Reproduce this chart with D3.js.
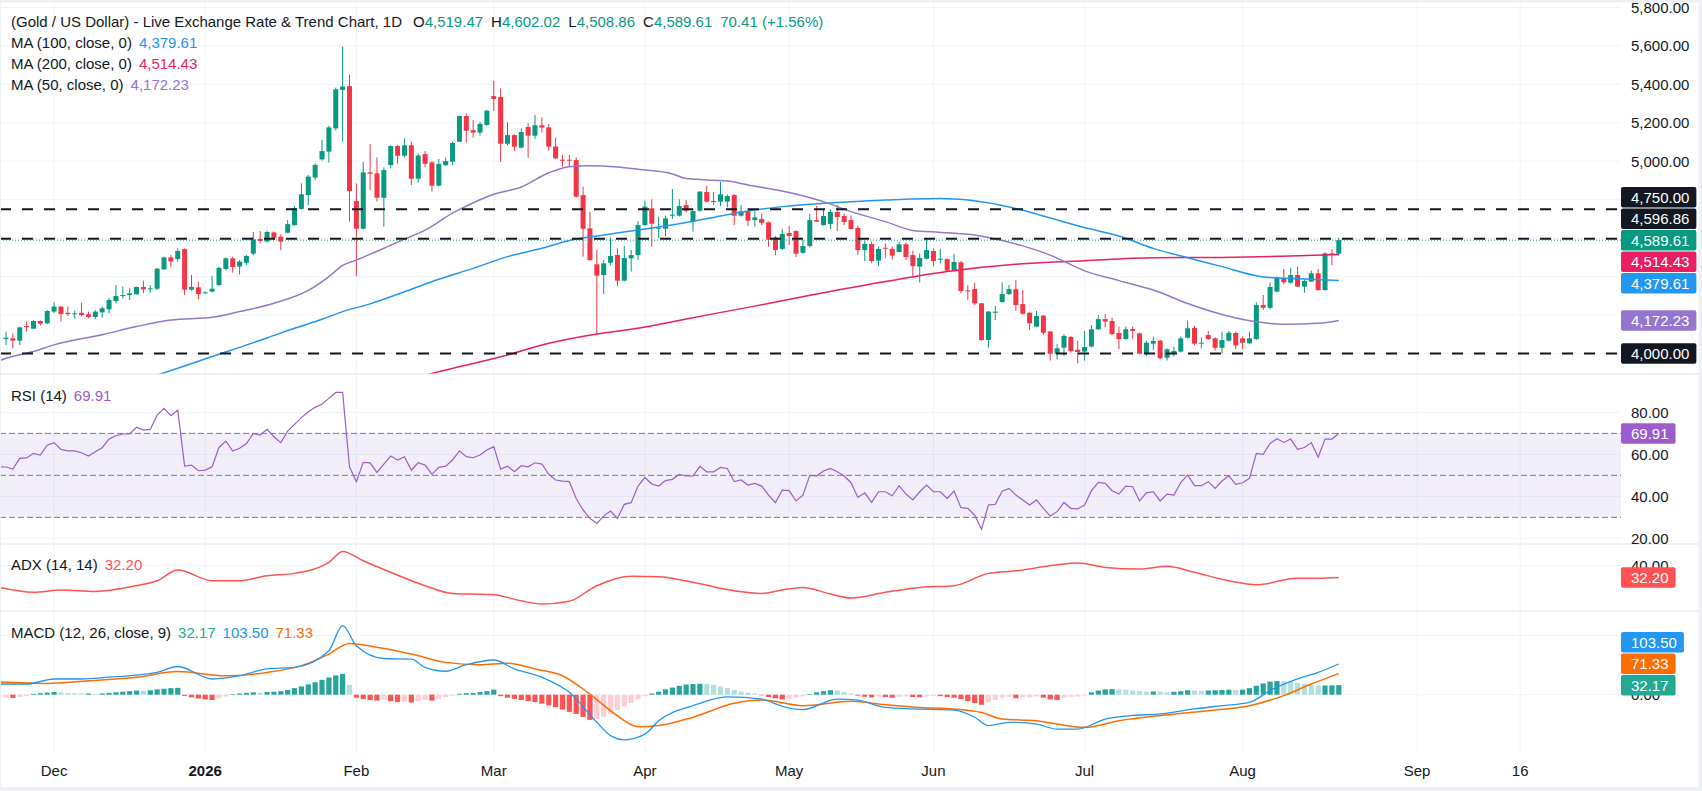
<!DOCTYPE html>
<html><head><meta charset="utf-8">
<script src="https://cdn.jsdelivr.net/npm/d3@7"></script>
<style>
html,body{margin:0;padding:0;background:#fff;}
svg{display:block;font-family:"Liberation Sans",Arial,sans-serif;}
</style></head><body>
<svg id="c" width="1702" height="791"></svg>
<script>
// ---------------- DATA ----------------
const opens = [4075,4079,4067,4143,4129,4169,4157,4218,4244,4212,4205,4212,4204,4190,4214,4230,4273,4301,4304,4308,4346,4335,4337,4438,4500,4491,4543,4332,4344,4315,4322,4356,4440,4495,4452,4472,4519,4596,4582,4630,4608,4628,4668,4752,4824,4915,5010,5050,5171,5371,
5391,4793,4649,4942,4937,4810,4980,5079,5029,5083,4909,5037,4994,4873,4980,4998,5102,5235,5162,5149,5189,5339,5334,5091,5136,5071,5178,5133,5187,5176,5077,5008,5008,5006,4824,4651,4464,4408,4472,4512,4379,4495,4512,4668,4755,4649,4649,4719,4717,4772,
4686,4743,4840,4793,4790,4790,4824,4717,4741,4694,4700,4682,4604,4544,4627,4637,4524,4559,4694,4668,4674,4736,4715,4694,4653,4538,4570,4483,4550,4544,4528,4568,4512,4452,4493,4533,4490,4491,4434,4474,4328,4335,4261,4070,4212,4268,4309,4334,4257,4212,
4140,4197,4114,3999,4030,4086,4020,4010,4036,4126,4179,4169,4107,4075,4127,4105,3999,4051,4067,3978,4004,4010,4082,4133,4053,4096,4079,4030,4067,4107,4079,4053,4075,4252,4238,4322,4391,4368,4408,4348,4374,4417,4330,4521,4519.47];
const highs = [4114,4105,4140,4166,4174,4172,4226,4266,4246,4244,4223,4264,4218,4226,4244,4290,4356,4348,4339,4348,4379,4355,4445,4504,4512,4547,4547,4408,4374,4322,4403,4452,4500,4504,4486,4512,4632,4637,4639,4634,4620,4694,4767,4885,4929,4989,5110,5185,5383,5596,
5449,4885,4996,5089,5020,4968,5083,5084,5119,5102,5041,5053,5000,5012,5020,5102,5238,5249,5214,5206,5267,5419,5379,5202,5141,5171,5197,5241,5228,5194,5124,5032,5032,5020,4868,4736,4538,4486,4604,4547,4559,4538,4689,4795,4802,4712,4717,4856,4802,4798,
4751,4845,4871,4840,4894,4828,4830,4772,4755,4741,4729,4686,4611,4648,4663,4641,4590,4726,4767,4750,4750,4772,4729,4718,4666,4587,4582,4556,4573,4556,4582,4578,4535,4521,4599,4547,4543,4495,4518,4481,4356,4368,4262,4221,4247,4370,4356,4382,4330,4218,
4221,4200,4117,4049,4101,4091,4067,4117,4148,4200,4205,4186,4140,4140,4140,4108,4067,4088,4070,4027,4036,4088,4171,4143,4084,4117,4084,4114,4117,4114,4088,4114,4266,4304,4370,4400,4440,4446,4452,4386,4431,4440,4526,4543,4602.02];
const lows = [4044,4027,4044,4114,4129,4145,4153,4212,4166,4195,4183,4195,4183,4178,4188,4209,4261,4287,4278,4308,4313,4316,4330,4435,4452,4478,4304,4327,4282,4313,4318,4350,4431,4420,4412,4460,4512,4573,4579,4590,4538,4625,4665,4748,4772,4902,5003,4993,5159,5102,
4686,4403,4645,4850,4790,4660,4963,4986,5019,4876,4889,4968,4842,4868,4975,4980,5100,5097,5123,5133,5185,5263,4998,5084,5053,5067,5018,5116,5149,5055,5012,4972,4975,4810,4504,4483,4101,4309,4460,4351,4375,4426,4486,4663,4556,4599,4611,4700,4712,4733,
4634,4738,4785,4772,4767,4760,4668,4712,4663,4660,4668,4556,4512,4538,4564,4502,4519,4552,4684,4665,4647,4637,4668,4645,4512,4481,4469,4455,4495,4490,4526,4486,4403,4369,4490,4452,4469,4427,4426,4313,4278,4252,4066,4030,4174,4264,4305,4221,4203,4122,
4136,4096,3963,3970,3987,4004,3949,3963,4032,4122,4136,4096,4023,4072,4075,3996,3987,4018,3970,3963,3984,4006,4078,4044,4027,4070,4015,4001,4062,4023,4023,4049,4070,4226,4231,4318,4360,4364,4346,4316,4372,4327,4327,4459,4508.86];
const closes = [4082,4067,4136,4140,4169,4155,4221,4244,4205,4205,4209,4200,4190,4218,4235,4278,4299,4304,4313,4346,4334,4339,4441,4500,4479,4533,4332,4346,4309,4318,4337,4445,4495,4450,4478,4507,4594,4585,4632,4602,4582,4673,4755,4828,4920,4981,5053,5176,5374,5389,
4845,4649,4942,4935,4810,4954,5079,5029,5083,4909,5030,4987,4873,4986,5001,5095,5235,5159,5149,5194,5263,5324,5091,5136,5076,5152,5133,5187,5175,5076,5015,5005,5005,4816,4649,4486,4405,4469,4507,4379,4497,4512,4668,4764,4675,4654,4703,4722,4767,4743,
4741,4842,4790,4790,4828,4819,4717,4739,4691,4708,4680,4592,4538,4622,4611,4519,4559,4694,4686,4715,4736,4710,4684,4648,4538,4570,4481,4544,4545,4509,4568,4502,4455,4497,4538,4481,4493,4431,4476,4325,4325,4261,4070,4218,4218,4309,4335,4252,4207,4157,
4195,4108,3999,4027,4091,4013,4008,4034,4126,4179,4166,4101,4075,4126,4117,3999,4056,4065,3975,4022,4013,4079,4131,4051,4056,4075,4030,4070,4108,4042,4056,4079,4252,4238,4346,4394,4370,4408,4348,4377,4417,4330,4521,4519.2,4589.61];

// moving averages: [bar, value]
const ma50 = [[-1,3962],[0,3975],[4,4010],[7,4045],[14,4098],[19,4140],[24,4174],[30,4188],[34,4218],[39,4261],[44,4328],[47,4400],[49,4458],[51,4486],[54,4532],[58,4595],[61,4642],[65,4730],[69,4800],[71,4828],[75,4866],[79,4940],[82,4972],[85,4977],[89,4970],[92,4958],[97,4934],[99,4910],[102,4903],[105,4897],[108,4877],[114,4838],[119,4790],[123,4738],[128,4686],[132,4640],[136,4630],[141,4616],[145,4588],[148,4560],[152,4512],[157,4430],[162,4379],[167,4330],[172,4260],[177,4203],[182,4165],[186,4152],[191,4157],[194,4172.23]];
const ma100 = [[22,3888],[25,3923],[30,3984],[34,4032],[38,4081],[42,4131],[46,4178],[49,4218],[53,4258],[58,4321],[63,4386],[68,4443],[73,4504],[78,4547],[82,4588],[87,4616],[92,4642],[99,4682],[103,4708],[108,4741],[113,4764],[119,4781],[123,4790],[128,4798],[132,4804],[136,4806],[140,4798],[145,4770],[148,4745],[150,4725],[152,4705],[157,4655],[162,4611],[167,4547],[172,4498],[177,4452],[182,4405],[184,4395],[189,4388],[194,4379.61]];
const ma200 = [[61,3887],[64,3914],[73,3992],[78,4044],[86,4101],[92,4131],[99,4180],[108,4240],[118,4309],[128,4374],[137,4426],[148,4467],[157,4483],[167,4498],[177,4500],[187,4507],[194,4514.43]];

// horizontal levels (drawn dashed lines)
const levels = [4750, 4596.86, 4000];

// RSI (14) per bar, first value is bar -1
const rsiFirstBar = -1;
const rsiValues = [54.1,54.0,53.0,58.1,58.3,60.5,59.7,64.4,65.6,62.4,61.7,61.7,60.8,59.2,61.3,63.2,67.3,68.9,69.7,69.8,72.9,71.6,71.9,78.7,81.9,78.4,81.1,54.4,54.9,52.2,52.5,54.1,63.3,66.3,61.6,62.9,65.2,70.0,69.2,71.9,68.4,65.6,71.1,74.3,77.5,80.3,82.4,84.0,86.7,89.5,89.5,
54.1,47.0,56.2,56.0,51.4,55.4,59.2,57.3,58.9,52.5,56.0,54.9,50.5,53.8,54.4,57.3,61.7,58.9,58.4,59.7,62.1,63.7,53.0,54.4,51.7,54.6,54.1,56.0,55.4,50.5,47.8,47.3,47.0,39.0,33.5,29.5,27.1,30.6,33.0,29.5,36.2,37.0,44.9,49.0,45.9,44.9,47.5,48.1,50.5,49.7,49.7,
54.3,51.7,51.7,53.8,53.3,47.0,47.8,45.4,46.2,44.9,40.6,37.0,43.0,42.7,37.8,40.6,50.0,49.8,52.1,53.3,51.7,49.7,46.5,39.5,41.7,37.1,42.2,42.2,40.3,45.1,41.1,38.3,42.2,45.4,42.2,42.2,39.0,42.5,34.6,34.3,31.1,24.3,35.9,36.2,42.5,43.8,40.6,38.3,35.9,
38.3,34.3,30.6,32.7,37.1,34.3,34.0,35.9,42.7,46.7,46.2,42.7,41.1,44.9,44.6,37.8,41.7,42.2,37.8,41.1,40.6,46.5,50.2,45.1,45.1,47.0,43.8,47.3,49.8,45.7,46.5,48.6,60.5,60.0,65.2,67.5,65.7,67.3,62.4,63.3,65.6,58.6,67.3,67.3,69.91];
const rsiBands = [70, 50, 30];

// ADX (14, 14): [bar, value]
const adx = [[-1,25.8],[4,22.6],[8,24.1],[13,23.2],[19,26.9],[22,30.1],[25,37.1],[30,30.1],[34,30.1],[38,33.4],[42,34.9],[47,42.1],[49,49.2],[52,43.1],[56,35.6],[61,26.9],[65,21.9],[71,21.0],[75,17.1],[78,15.0],[82,16.8],[86,26.9],[91,33.0],[95,32.7],[100,29.1],[106,23.6],[110,21.9],[113,24.1],[116,25.8],[120,21.5],[123,18.9],[128,22.6],[133,25.8],[138,26.9],[143,34.9],[147,36.6],[153,40.5],[156,41.6],[160,38.8],[165,37.7],[169,39.5],[173,35.6],[178,30.1],[182,27.5],[188,31.7],[191,31.7],[194,32.2]];

// MACD (12, 26, close, 9)
const macdLine = [[-1,36],[3,36],[7,53],[11,53],[15,59],[19,66],[22,75],[25,95],[30,53],[34,64],[38,87],[42,92],[47,148],[49,233],[51,165],[55,122],[59,120],[61,92],[64,79],[67,101],[71,117],[74,87],[78,59],[82,8],[86,-93],[88,-138],[90,-152],[93,-133],[95,-88],[100,-37],[105,-7],[110,-15],[113,-39],[116,-50],[121,-15],[124,-18],[128,-43],[132,-48],[138,-52],[141,-76],[143,-104],[146,-93],[150,-99],[153,-116],[156,-116],[160,-82],[164,-70],[168,-65],[173,-48],[177,-37],[181,-26],[184,14],[188,53],[191,75],[194,103.5]];
const signalLine = [[-1,44],[6,38],[12,47],[19,59],[25,78],[32,64],[38,75],[43,98],[47,137],[50,173],[54,160],[59,137],[64,109],[69,101],[73,106],[77,87],[81,64],[85,2],[89,-71],[92,-108],[95,-104],[100,-76],[106,-29],[110,-18],[116,-37],[123,-22],[128,-34],[133,-43],[138,-48],[142,-60],[145,-82],[150,-88],[153,-99],[157,-110],[162,-88],[168,-70],[175,-54],[181,-37],[186,-3],[190,36],[194,71.33]];
const histFirstBar = -1;
const histValues = [-10,
-10,-11,-8,-4,
3,5,7,9,8,6,5,4,4,3,
4,6,8,10,12,14,13,15,18,20,22,23,
-4,-9,-13,-16,-18,-12,-6,
2,4,6,8,7,9,
10,12,16,22,28,35,42,50,58,65,70,33,
-10,-15,-18,-20,-17,-22,-25,-24,-26,-22,-18,-20,-14,-8,-4,
3,5,6,9,12,17,
-5,-10,-14,-18,-22,-25,-30,-36,-42,-50,-58,-65,-75,-85,
-82,-75,-65,-52,-40,-28,-15,-5,
4,10,18,24,30,34,36,37,36,
33,28,22,16,11,7,4,
-2,-8,-12,-16,-14,-10,-6,
2,8,12,15,14,9,4,
-3,-7,-9,-6,-8,-10,-7,-5,-8,-9,-6,-4,-5,-8,-10,-15,-22,-28,-34,
-25,-18,-10,-8,-12,-10,-9,-6,-10,-16,-18,-10,-8,-6,-3,
8,14,18,19,18,17,
14,12,10,11,10,8,
10,12,15,14,13,14,15,16,17,16,17,
22,30,38,44,46,45,44,40,36,32,30,31,31.5,32.17];

// axis ticks
const priceTicks = [4000,4200,4400,4600,4800,5000,5200,5400,5600,5800];
const rsiTicks = [20,40,60,80];
const adxTicks = [40];
const macdTicks = [0,200];
const dateTickLabels = ["Dec","2026","Feb","Mar","Apr","May","Jun","Jul","Aug","Sep","16"];
const dateTickBars = [7,29,51,71,93,114,135,157,180,205.4,220.4];
const boldTicks = ["2026"];

// ---------------- LAYOUT / STYLE ----------------
const W = 1702, H = 791, PR = 1621;
const P = {main:[0,374], rsi:[374,544], adx:[544,611], macd:[611,752]};
const C = {
  text:"#131722", up:"#089981", down:"#f23645", grid:"#f0f3fa", sep:"#e0e3eb",
  ma50:"#9575cd", ma100:"#2196f3", ma200:"#e91e63", rsi:"#9c5bcf", adx:"#ff5252",
  macd:"#2196f3", signal:"#ff6d00", histUp:"#26a69a", histUpL:"#b2dfdb", histDn:"#ff5252", histDnL:"#ffcdd2",
  histLbl:"#22ab94", level:"#131722"
};
const fmt = d3.format(",.2f");
const FS = 15;

const svg = d3.select("#c");
svg.append("rect").attr("width",W).attr("height",H).attr("fill","#fff");

const x = d3.scaleLinear().domain([0,194]).range([6, 6 + 6.87*194]);
const yP = d3.scaleLinear().domain([3893.4, 5838.8]).range([P.main[1], P.main[0]]);
const yR = d3.scaleLinear().domain([17.3, 98.3]).range([P.rsi[1], P.rsi[0]]);
const yA = d3.scaleLinear().domain([10.45, 54.0]).range([P.adx[1], P.adx[0]]);
const yM = d3.scaleLinear().domain([-193.2, 282.2]).range([P.macd[1], P.macd[0]]);

const defs = svg.append("defs");
Object.entries(P).forEach(([k,[t,b]])=>{
  defs.append("clipPath").attr("id","clip-"+k).append("rect").attr("x",0).attr("y",t).attr("width",PR).attr("height",b-t);
});

// vertical grid
const gGrid = svg.append("g");
gGrid.selectAll("line.v").data(dateTickBars).join("line")
  .attr("x1",d=>x(d)).attr("x2",d=>x(d)).attr("y1",0).attr("y2",P.macd[1])
  .attr("stroke",C.grid).attr("stroke-width",1);
function hgrid(ticks, scale, panel){
  gGrid.append("g").attr("clip-path",`url(#clip-${panel})`).selectAll("line").data(ticks).join("line")
    .attr("x1",0).attr("x2",PR).attr("y1",d=>scale(d)).attr("y2",d=>scale(d))
    .attr("stroke",C.grid).attr("stroke-width",1);
}
hgrid(priceTicks,yP,"main"); hgrid(rsiTicks,yR,"rsi"); hgrid(adxTicks,yA,"adx"); hgrid(macdTicks,yM,"macd");

// ---------- MAIN PANEL ----------
const gMain = svg.append("g").attr("clip-path","url(#clip-main)");
const bars = closes.map((c,i)=>({i,o:opens[i],h:highs[i],l:lows[i],c}));
const cg = gMain.append("g");
cg.selectAll("line").data(bars).join("line")
  .attr("x1",d=>x(d.i)).attr("x2",d=>x(d.i)).attr("y1",d=>yP(d.h)).attr("y2",d=>yP(d.l))
  .attr("stroke",d=>d.c>=d.o?C.up:C.down).attr("stroke-width",1);
cg.selectAll("rect").data(bars).join("rect")
  .attr("x",d=>x(d.i)-2.5).attr("width",5)
  .attr("y",d=>yP(Math.max(d.o,d.c))).attr("height",d=>Math.max(1,Math.abs(yP(d.o)-yP(d.c))))
  .attr("fill",d=>d.c>=d.o?C.up:C.down);

const lineP = d3.line().x(d=>x(d[0])).y(d=>yP(d[1])).curve(d3.curveMonotoneX);
[[ma200,C.ma200],[ma100,C.ma100],[ma50,C.ma50]].forEach(([d,col])=>{
  gMain.append("path").attr("d",lineP(d)).attr("fill","none").attr("stroke",col).attr("stroke-width",1.5);
});
gMain.selectAll("line.lvl").data(levels).join("line")
  .attr("x1",0).attr("x2",PR).attr("y1",d=>yP(d)).attr("y2",d=>yP(d))
  .attr("stroke",C.level).attr("stroke-width",2).attr("stroke-dasharray","11,11");
const lastClose = closes[closes.length-1];
gMain.append("line").attr("x1",0).attr("x2",PR).attr("y1",yP(lastClose)).attr("y2",yP(lastClose))
  .attr("stroke",C.up).attr("stroke-width",1).attr("stroke-dasharray","1,2");

// ---------- RSI ----------
const gR = svg.append("g").attr("clip-path","url(#clip-rsi)");
gR.append("rect").attr("x",0).attr("width",PR).attr("y",yR(rsiBands[0])).attr("height",yR(rsiBands[2])-yR(rsiBands[0]))
  .attr("fill","rgba(126,87,194,0.1)");
gR.selectAll("line").data(rsiBands).join("line")
  .attr("x1",0).attr("x2",PR).attr("y1",d=>yR(d)).attr("y2",d=>yR(d))
  .attr("stroke","#787b86").attr("stroke-width",1).attr("stroke-dasharray","6,3");
const rsiPts = rsiValues.map((v,k)=>[rsiFirstBar+k,v]);
gR.append("path").attr("d",d3.line().x(d=>x(d[0])).y(d=>yR(d[1]))(rsiPts))
  .attr("fill","none").attr("stroke",C.rsi).attr("stroke-width",1.2);

// ---------- ADX ----------
const gA = svg.append("g").attr("clip-path","url(#clip-adx)");
gA.append("path").attr("d",d3.line().x(d=>x(d[0])).y(d=>yA(d[1])).curve(d3.curveMonotoneX)(adx))
  .attr("fill","none").attr("stroke",C.adx).attr("stroke-width",1.5);

// ---------- MACD ----------
const gM = svg.append("g").attr("clip-path","url(#clip-macd)");
const histPts = histValues.map((v,k)=>({i:histFirstBar+k,v,p:k>0?histValues[k-1]:v}));
gM.selectAll("rect").data(histPts).join("rect")
  .attr("x",d=>x(d.i)-2.6).attr("width",5.2)
  .attr("y",d=>yM(Math.max(0,d.v))).attr("height",d=>Math.abs(yM(d.v)-yM(0)))
  .attr("fill",d=> d.v>=0 ? (d.v>=d.p?C.histUp:C.histUpL) : (d.v<d.p?C.histDn:C.histDnL));
const lineM = d3.line().x(d=>x(d[0])).y(d=>yM(d[1])).curve(d3.curveMonotoneX);
gM.append("path").attr("d",lineM(signalLine)).attr("fill","none").attr("stroke",C.signal).attr("stroke-width",1.5);
gM.append("path").attr("d",lineM(macdLine)).attr("fill","none").attr("stroke",C.macd).attr("stroke-width",1.3);

// ---------- separators ----------
[P.rsi[0],P.adx[0],P.macd[0]].forEach(yv=>{
  svg.append("line").attr("x1",0).attr("x2",W).attr("y1",yv).attr("y2",yv).attr("stroke",C.sep).attr("stroke-width",1.2);
});

// ---------- value boxes placement ----------
const LH = 21.5;
function placeLabels(labels, anchor){
  anchor.py = anchor.y;
  const above = labels.filter(l=>l!==anchor && l.y<=anchor.y).sort((a,b)=>b.y-a.y);
  let lim = anchor.py;
  above.forEach(l=>{ l.py = Math.min(l.y, lim-LH); lim = l.py; });
  const below = labels.filter(l=>l!==anchor && l.y>anchor.y).sort((a,b)=>a.y-b.y);
  lim = anchor.py;
  below.forEach(l=>{ l.py = Math.max(l.y, lim+LH); lim = l.py; });
}
const last = a=>a[a.length-1][1];
const mainLabels = [
  {y:yP(levels[0]),text:fmt(levels[0]),color:C.level},
  {y:yP(levels[1]),text:fmt(levels[1]),color:C.level},
  {y:yP(lastClose),text:fmt(lastClose),color:C.up},
  {y:yP(last(ma200)),text:fmt(last(ma200)),color:C.ma200},
  {y:yP(last(ma100)),text:fmt(last(ma100)),color:C.ma100},
  {y:yP(last(ma50)),text:fmt(last(ma50)),color:C.ma50},
  {y:yP(levels[2]),text:fmt(levels[2]),color:C.level}
];
placeLabels(mainLabels, mainLabels[2]);
const rsiLast = rsiValues[rsiValues.length-1];
const rl = [{y:yR(rsiLast),text:fmt(rsiLast),color:C.rsi}]; placeLabels(rl, rl[0]);
const al = [{y:yA(last(adx)),text:fmt(last(adx)),color:C.adx}]; placeLabels(al, al[0]);
const histLast = histValues[histValues.length-1];
const ml = [
  {y:yM(last(macdLine)),text:fmt(last(macdLine)),color:C.macd},
  {y:yM(last(signalLine)),text:fmt(last(signalLine)),color:C.signal},
  {y:yM(histLast),text:fmt(histLast),color:C.histLbl}
];
placeLabels(ml, ml[2]);
const allBoxes = [...mainLabels, ...rl, ...al, ...ml];

// ---------- axis tick labels (ticks covered by a value box are hidden, as on the scale) ----------
const gAx = svg.append("g").attr("font-size",FS).attr("fill",C.text);
function ticks(arr, scale){
  const vis = arr.filter(d=>!allBoxes.some(b=>Math.abs(b.py-scale(d))<8.5));
  gAx.append("g").selectAll("text").data(vis).join("text")
    .attr("x",1631).attr("y",d=>scale(d)).attr("dy","0.36em").text(d=>fmt(d));
}
ticks(priceTicks,yP); ticks(rsiTicks,yR); ticks(adxTicks,yA); ticks(macdTicks,yM);

svg.append("g").attr("font-size",FS).attr("fill",C.text).selectAll("text").data(dateTickLabels).join("text")
  .attr("x",(d,k)=>x(dateTickBars[k])).attr("y",771).attr("dy","0.36em").attr("text-anchor","middle")
  .attr("font-weight",d=>boldTicks.includes(d)?"bold":"normal").text(d=>d);

function drawBoxes(labels){
  const g = svg.append("g").attr("font-size",FS);
  labels.forEach(l=>{
    const bg = g.append("rect").attr("x",PR).attr("y",l.py-LH/2+0.5).attr("height",LH-1).attr("rx",2).attr("fill",l.color);
    const t = g.append("text").attr("x",1631).attr("y",l.py).attr("dy","0.36em").attr("fill","#fff").text(l.text);
    bg.attr("width", t.node().getComputedTextLength()+17);
  });
}
drawBoxes(allBoxes);

// ---------- legends ----------
const lg = svg.append("g").attr("font-size",FS).attr("fill",C.text);
const prevClose = closes[closes.length-2];
const chg = lastClose - prevClose;
const t1 = lg.append("text").attr("x",11).attr("y",21.5).attr("dy","0.36em");
t1.append("tspan").text("(Gold / US Dollar) - Live Exchange Rate & Trend Chart, 1D");
[["O",opens],["H",highs],["L",lows],["C",closes]].forEach(([k,arr],j)=>{
  t1.append("tspan").attr("dx",j===0?11:8).text(k);
  t1.append("tspan").attr("fill",C.up).text(fmt(arr[arr.length-1]));
});
t1.append("tspan").attr("dx",8).attr("fill",C.up).text(`${d3.format(".2f")(chg)} (${d3.format("+.2f")(chg/prevClose*100)}%)`);

function legendRow(yv, label, vals){
  const t = lg.append("text").attr("x",11).attr("y",yv).attr("dy","0.36em");
  t.append("tspan").text(label);
  vals.forEach(([v,col])=>t.append("tspan").attr("dx",7).attr("fill",col).text(v));
}
legendRow(42.5,"MA (100, close, 0)",[[fmt(last(ma100)),C.ma100]]);
legendRow(63.5,"MA (200, close, 0)",[[fmt(last(ma200)),C.ma200]]);
legendRow(84.5,"MA (50, close, 0)",[[fmt(last(ma50)),C.ma50]]);
legendRow(395.3,"RSI (14)",[[fmt(rsiLast),C.rsi]]);
legendRow(565,"ADX (14, 14)",[[fmt(last(adx)),C.adx]]);
legendRow(632.3,"MACD (12, 26, close, 9)",[[fmt(histLast),C.histLbl],[fmt(last(macdLine)),C.macd],[fmt(last(signalLine)),C.signal]]);

// frame
const fr = svg.append("g").attr("fill","#eef0f4");
fr.append("rect").attr("x",0).attr("y",0).attr("width",W).attr("height",2.5);
fr.append("rect").attr("x",W-3.5).attr("y",0).attr("width",3.5).attr("height",H);
fr.append("rect").attr("x",0).attr("y",H-4).attr("width",W).attr("height",4);
fr.append("rect").attr("x",0).attr("y",0).attr("width",1).attr("height",H);
</script>
</body></html>
